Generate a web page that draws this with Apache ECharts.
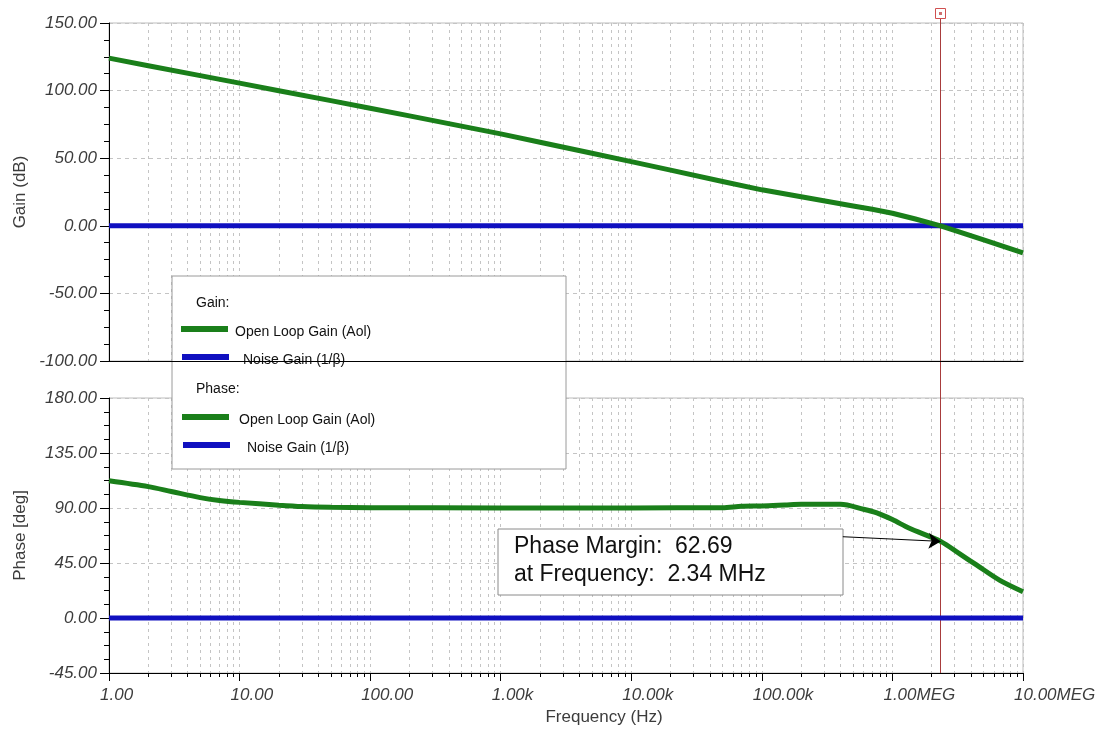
<!DOCTYPE html>
<html>
<head>
<meta charset="utf-8">
<script src="https://cdn.jsdelivr.net/npm/echarts@6/dist/echarts.min.js"></script>
<style>
html, body { margin: 0; padding: 0; background: #fff; }
#chart { width: 1099px; height: 733px; }
</style>
</head>
<body>
<div id="chart"></div>
<script>
// Open loop gain (dB) vs frequency (Hz)
const gainFreq = [1, 2, 5, 10, 20, 50, 100, 200, 500, 1e3, 2e3, 5e3, 1e4, 2e4, 5e4, 1e5, 2e5, 5e5, 7e5, 1e6, 1.5e6, 2.34e6, 5e6, 1e7]
const gainDb = [124, 118.4, 111.1, 105.5, 99.9, 92.6, 87, 81.3, 73.7, 68, 61.8, 53.7, 47.5, 41.2, 32.8, 26.6, 21.5, 14.7, 12.2, 9.3, 5, 0, -10.4, -20]

// Open loop phase (deg) vs frequency (Hz)
const phaseFreq = [1, 2, 3, 5, 7, 10, 20, 30, 50, 100, 1e3, 1e4, 5e4, 7e4, 1e5, 1.5e5, 2e5, 4e5, 6e5, 7.6e5, 1e6, 1.35e6, 2.34e6, 3.3e6, 4.4e6, 6.6e6, 1e7]
const phaseDeg = [112.3, 107.5, 103.5, 98.5, 96.2, 94.6, 92.3, 91.2, 90.6, 90.3, 90.1, 90.1, 90.3, 91.4, 91.7, 92.5, 93.1, 93, 89, 86, 80.5, 73.4, 62.69, 52.2, 43.4, 31, 21.5]

// Noise gain (1/beta), flat
const noiseFreq = [1, 1e7]
const noiseGainDb = [0, 0]
const noisePhaseDeg = [0, 0]

// Cursor / phase margin
const crossoverFreq = 2.34e6
const phaseMargin = 62.69
const arrowStart = [4.17e5, 66.5]

const xTickLabels = ['1.00', '10.00', '100.00', '1.00k', '10.00k', '100.00k', '1.00MEG', '10.00MEG']

const FONT = '"Liberation Sans", Arial, sans-serif'
const GREEN = '#1a7f1a'
const BLUE = '#1010c0'
const CURSOR = '#a83c3c'
const GRIDLINE = '#c4c4c4'
const LABEL = '#3c3c3c'

const zip = (xs, ys) => xs.map((x, i) => [x, ys[i]])

function xAxis(gridIndex, bottom) {
    return {
        type: 'log',
        logBase: 10,
        gridIndex: gridIndex,
        min: 1,
        max: 1e7,
        splitNumber: 7,
        name: bottom ? 'Frequency (Hz)' : '',
        nameLocation: 'middle',
        nameGap: 36,
        nameTextStyle: { fontFamily: FONT, fontSize: 17, color: LABEL, padding: [0, 0, 0, 76] },
        axisLine: { onZero: false, lineStyle: { color: '#000', width: 1 } },
        axisTick: { show: bottom, length: 8, lineStyle: { color: '#000' } },
        minorTick: { show: bottom, splitNumber: 9, length: 4, lineStyle: { color: '#000' } },
        axisLabel: {
            show: bottom,
            margin: 14,
            align: 'left',
            padding: [0, 0, 0, -9],
            fontFamily: FONT,
            fontSize: 17,
            fontStyle: 'italic',
            color: LABEL,
            formatter: v => xTickLabels[Math.round(Math.log10(v))]
        },
        splitLine: { show: true, lineStyle: { type: [3, 4], color: GRIDLINE } },
        minorSplitLine: { show: true, lineStyle: { type: [3, 4], color: GRIDLINE } }
    }
}

function yAxis(gridIndex, name, min, max, interval) {
    return {
        type: 'value',
        gridIndex: gridIndex,
        min: min,
        max: max,
        interval: interval,
        name: name,
        nameLocation: 'middle',
        nameGap: 80,
        nameTextStyle: { fontFamily: FONT, fontSize: 17, color: LABEL },
        axisLine: { show: true, onZero: false, lineStyle: { color: '#000', width: 1 } },
        axisTick: { show: true, length: 9, lineStyle: { color: '#000' } },
        minorTick: { show: true, splitNumber: 4, length: 5, lineStyle: { color: '#000' } },
        axisLabel: {
            margin: 12,
            fontFamily: FONT,
            fontSize: 17,
            fontStyle: 'italic',
            color: LABEL,
            formatter: v => v.toFixed(2)
        },
        splitLine: { show: true, lineStyle: { type: [4, 4], color: GRIDLINE } }
    }
}

const chart = echarts.init(document.getElementById('chart'), null, { renderer: 'canvas' })

const legendRows = [
    { y: 303, text: 'Gain:', head: true },
    { y: 329, text: 'Open Loop Gain (Aol)', color: GREEN, x1: 181, tx: 235 },
    { y: 357, text: 'Noise Gain (1/β)', color: BLUE, x1: 182, tx: 243 },
    { y: 389, text: 'Phase:', head: true },
    { y: 417, text: 'Open Loop Gain (Aol)', color: GREEN, x1: 182, tx: 239 },
    { y: 445, text: 'Noise Gain (1/β)', color: BLUE, x1: 183, tx: 247 }
]

const legendChildren = [
    { type: 'rect', shape: { x: 172, y: 276, width: 394, height: 193 }, style: { fill: '#fff', stroke: '#9a9a9a', lineWidth: 1 } }
]
legendRows.forEach(r => {
    if (r.head) {
        legendChildren.push({ type: 'text', style: { x: 196, y: r.y, text: r.text, font: '14px ' + FONT, fill: '#111', verticalAlign: 'middle' } })
    } else {
        legendChildren.push({ type: 'line', shape: { x1: r.x1, y1: r.y, x2: r.x1 + 47, y2: r.y }, style: { stroke: r.color, lineWidth: 6 } })
        legendChildren.push({ type: 'text', style: { x: r.tx, y: r.y + 3, text: r.text, font: '14px ' + FONT, fill: '#111', verticalAlign: 'middle' } })
    }
})

const option = {
    animation: false,
    backgroundColor: '#fff',
    grid: [
        { left: 109, top: 23, width: 914, height: 338, show: true, borderColor: '#bdbdbd', borderWidth: 1, backgroundColor: 'transparent' },
        { left: 109, top: 398, width: 914, height: 275, show: true, borderColor: '#bdbdbd', borderWidth: 1, backgroundColor: 'transparent' }
    ],
    xAxis: [xAxis(0, false), xAxis(1, true)],
    yAxis: [
        yAxis(0, 'Gain (dB)', -100, 150, 50),
        yAxis(1, 'Phase [deg]', -45, 180, 45)
    ],
    series: [
        {
            name: 'Noise Gain (1/β)',
            type: 'line',
            xAxisIndex: 0,
            yAxisIndex: 0,
            data: zip(noiseFreq, noiseGainDb),
            showSymbol: false,
            lineStyle: { color: BLUE, width: 5 },
            z: 3
        },
        {
            name: 'Open Loop Gain (Aol)',
            type: 'line',
            xAxisIndex: 0,
            yAxisIndex: 0,
            data: zip(gainFreq, gainDb),
            showSymbol: false,
            lineStyle: { color: GREEN, width: 5, join: 'round' },
            z: 4
        },
        {
            name: 'Noise Phase',
            type: 'line',
            xAxisIndex: 1,
            yAxisIndex: 1,
            data: zip(noiseFreq, noisePhaseDeg),
            showSymbol: false,
            lineStyle: { color: BLUE, width: 5 },
            z: 3
        },
        {
            name: 'Open Loop Phase',
            type: 'line',
            xAxisIndex: 1,
            yAxisIndex: 1,
            data: zip(phaseFreq, phaseDeg),
            showSymbol: false,
            smooth: 0.3,
            lineStyle: { color: GREEN, width: 5 },
            z: 4,
            markLine: {
                silent: true,
                symbol: ['none', 'arrow'],
                symbolSize: 12,
                label: { show: false },
                lineStyle: { color: '#000', width: 1, type: 'solid' },
                data: [[{ coord: arrowStart }, { coord: [crossoverFreq, phaseMargin] }]]
            }
        }
    ]
}

chart.setOption(option)

// Cursor line through both plots at the crossover frequency, placed via the axes
const pTop = chart.convertToPixel({ gridIndex: 0 }, [crossoverFreq, 150])
const pBot = chart.convertToPixel({ gridIndex: 1 }, [crossoverFreq, -45])
const cx = Math.floor(pTop[0])

chart.setOption({
    graphic: [
        {
            type: 'group',
            z: 50,
            children: [
                { type: 'rect', shape: { x: cx, y: Math.round(pTop[1]) - 9, width: 1, height: Math.round(pBot[1] - pTop[1]) + 9 }, style: { fill: CURSOR } },
                { type: 'rect', shape: { x: cx - 4.5, y: Math.round(pTop[1]) - 14.5, width: 10, height: 10 }, style: { fill: '#fff', stroke: '#d05050', lineWidth: 1 } },
                { type: 'rect', shape: { x: cx - 1, y: Math.round(pTop[1]) - 11, width: 3, height: 3 }, style: { fill: '#d07070' } }
            ]
        },
        { type: 'group', z: 100, children: legendChildren },
        {
            type: 'group',
            z: 100,
            children: [
                { type: 'rect', shape: { x: 498, y: 529, width: 345, height: 66 }, style: { fill: '#fff', stroke: '#8a8a8a', lineWidth: 1 } },
                {
                    type: 'text',
                    style: {
                        x: 514,
                        y: 533,
                        text: 'Phase Margin:  ' + phaseMargin.toFixed(2) + '\nat Frequency:  ' + (crossoverFreq / 1e6).toFixed(2) + ' MHz',
                        font: '23px ' + FONT,
                        lineHeight: 28,
                        fill: '#111',
                        verticalAlign: 'top'
                    }
                }
            ]
        }
    ]
})
</script>
</body>
</html>
